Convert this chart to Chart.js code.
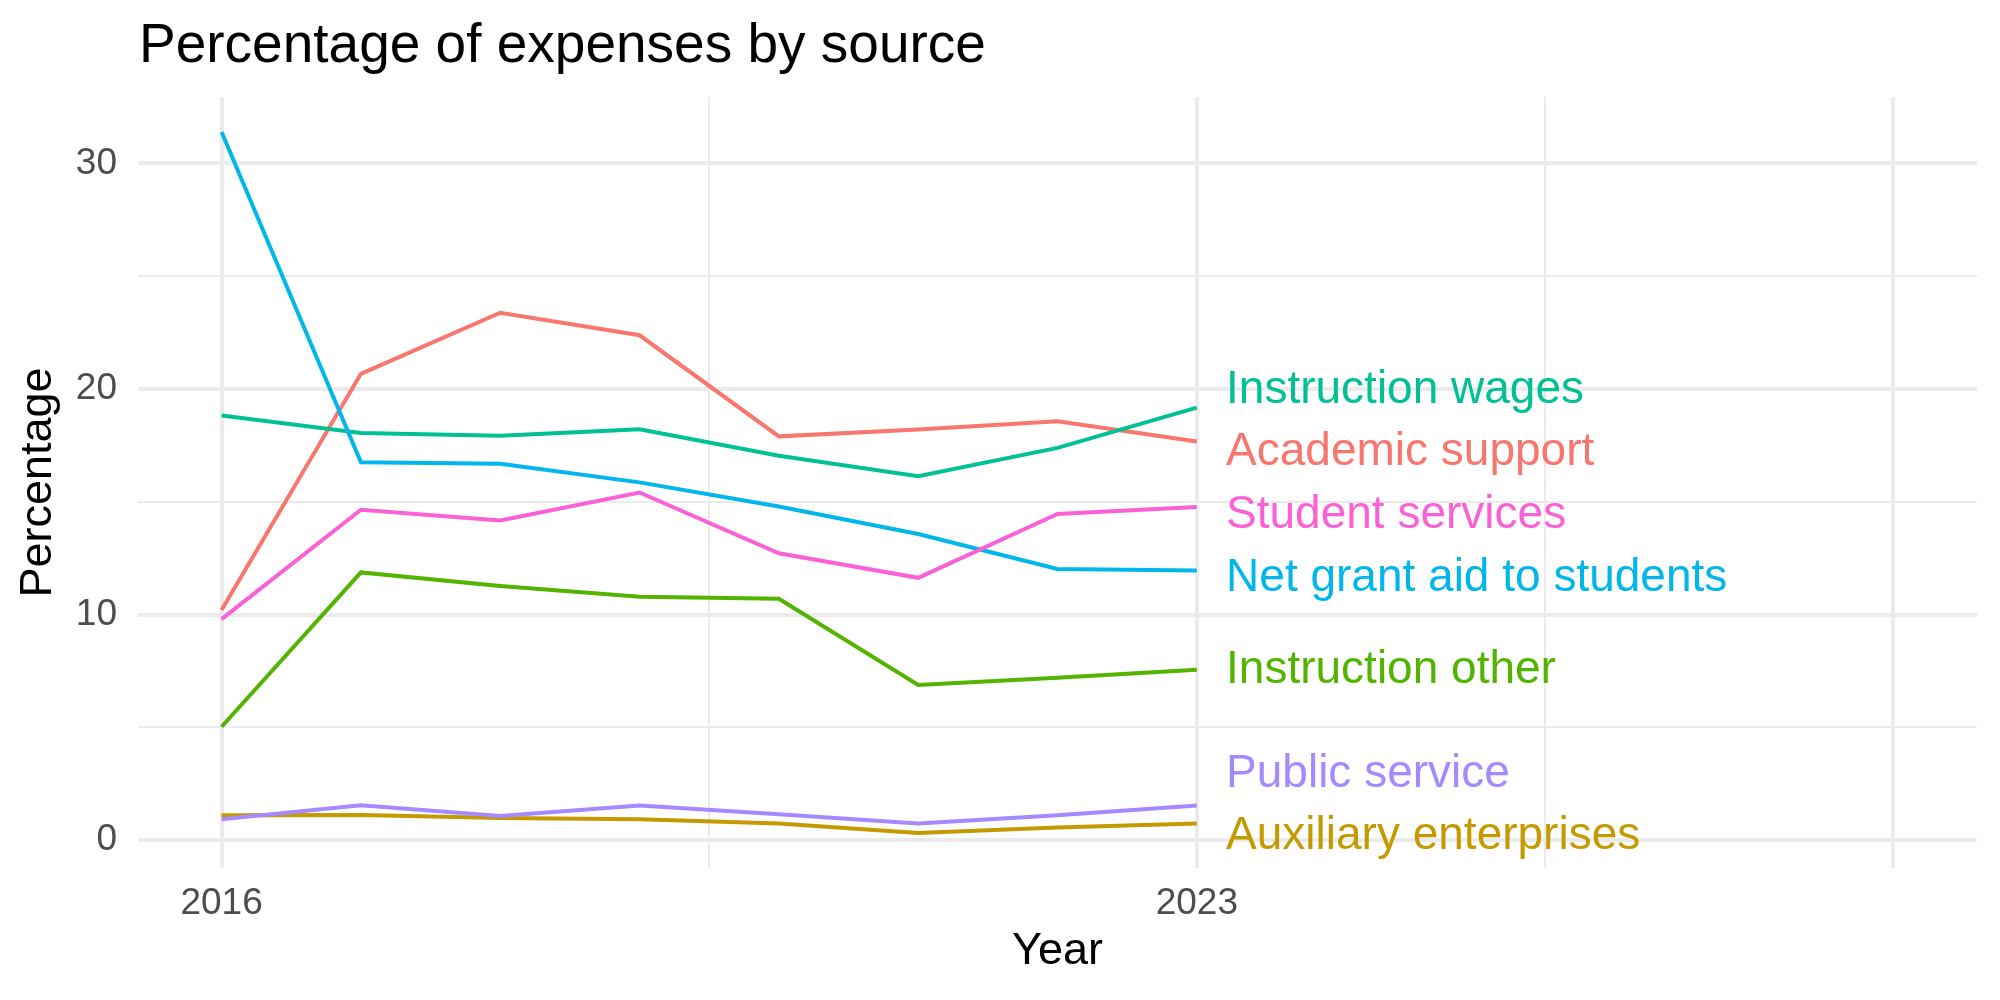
<!DOCTYPE html>
<html>
<head>
<meta charset="utf-8">
<script src="https://cdn.jsdelivr.net/npm/chart.js@4"></script>
<style>
  html, body { margin: 0; padding: 0; background: #fff; }
  #wrap { width: 2000px; height: 1000px; position: relative; }
</style>
</head>
<body>
<div id="wrap"><canvas id="chartGastos"></canvas></div>
<script>
const years = [2016, 2017, 2018, 2019, 2020, 2021, 2022, 2023];

const seriesNames = [
    'Academic support',
    'Auxiliary enterprises',
    'Instruction other',
    'Instruction wages',
    'Net grant aid to students',
    'Public service',
    'Student services'
];

const academicSupport = [10.2, 20.67, 23.38, 22.38, 17.9, 18.2, 18.57, 17.67];
const auxiliaryEnterprises = [1.11, 1.12, 0.99, 0.93, 0.74, 0.32, 0.56, 0.74];
const instructionOther = [5.03, 11.87, 11.27, 10.79, 10.7, 6.88, 7.2, 7.56];
const instructionWages = [18.82, 18.05, 17.93, 18.21, 17.04, 16.13, 17.39, 19.17];
const netGrantAid = [31.39, 16.75, 16.69, 15.86, 14.79, 13.57, 12.02, 11.95];
const publicService = [0.93, 1.55, 1.07, 1.54, 1.15, 0.74, 1.11, 1.54];
const studentServices = [9.8, 14.65, 14.17, 15.41, 12.72, 11.63, 14.46, 14.77];

// end-of-line labels (repelled positions, in data units)
const labelY = [17.19, 0.16, 7.55, 19.95, 11.61, 2.94, 14.4];
const labelYear = 2023.21;

const xBreaks = [2016, 2019.5, 2023, 2025.5, 2028];
const xMajor = [2016, 2023, 2028];
const xTickText = { 2016: '2016', 2023: '2023' };
const yBreaks = [0, 5, 10, 15, 20, 25, 30];

const COLORS = ['#F8766D', '#C49A00', '#53B400', '#00C094', '#00B6EB', '#A58AFF', '#FB61D7'];
const FONT = '"Liberation Sans", Arial, Helvetica, sans-serif';
const GRID = '#EBEBEB';

const allSeries = [academicSupport, auxiliaryEnterprises, instructionOther, instructionWages,
    netGrantAid, publicService, studentServices];

const datasets = allSeries.map((vals, i) => ({
    label: seriesNames[i],
    data: vals.map((v, j) => ({ x: years[j], y: v })),
    borderColor: COLORS[i],
    backgroundColor: COLORS[i],
    borderWidth: 4,
    pointRadius: 0,
    tension: 0,
    fill: false,
    order: allSeries.length - i
}));

// title + direct labels, drawn like ggplot
const textPlugin = {
    id: 'ggText',
    afterDraw(chart) {
        const ctx = chart.ctx;
        const xs = chart.scales.x, ys = chart.scales.y;
        ctx.save();
        ctx.fillStyle = '#000';
        ctx.font = '55px ' + FONT;
        ctx.textAlign = 'left';
        ctx.textBaseline = 'alphabetic';
        ctx.fillText('Percentage of expenses by source', chart.chartArea.left + 1, 62);

        ctx.font = '46px ' + FONT;
        ctx.textBaseline = 'middle';
        seriesNames.forEach((name, i) => {
            ctx.fillStyle = COLORS[i];
            ctx.fillText(name, xs.getPixelForValue(labelYear), ys.getPixelForValue(labelY[i]));
        });
        ctx.restore();
    }
};

const cv = document.getElementById('chartGastos');
new Chart(cv.getContext('2d'), {
    type: 'line',
    data: { datasets },
    plugins: [textPlugin],
    options: {
        responsive: true,
        maintainAspectRatio: false,
        animation: false,
        layout: { padding: { top: 97, right: 23, left: 0, bottom: 0 } },
        plugins: {
            legend: { display: false },
            tooltip: { enabled: false },
            title: { display: false }
        },
        scales: {
            x: {
                type: 'linear',
                min: 2015.4,
                max: 2028.6,
                afterBuildTicks: s => { s.ticks = xBreaks.map(v => ({ value: v })); },
                afterFit: s => { s.height = 132; },
                border: { display: false },
                grid: {
                    color: GRID,
                    drawTicks: false,
                    lineWidth: c => xMajor.includes(c.tick.value) ? 4 : 2
                },
                ticks: {
                    autoSkip: false,
                    maxRotation: 0,
                    padding: 14,
                    color: '#4D4D4D',
                    font: { family: FONT, size: 37, lineHeight: 1.2 },
                    callback: v => xTickText[v] || ''
                },
                title: {
                    display: true,
                    text: 'Year',
                    color: '#000',
                    font: { family: FONT, size: 45, lineHeight: 1.2 },
                    padding: { top: 0, bottom: 21 }
                }
            },
            y: {
                min: -1.23,
                max: 32.94,
                afterBuildTicks: s => { s.ticks = yBreaks.map(v => ({ value: v })); },
                afterFit: s => { s.width = 138; },
                border: { display: false },
                grid: {
                    color: GRID,
                    drawTicks: false,
                    lineWidth: c => c.tick.value % 10 === 0 ? 4 : 2
                },
                ticks: {
                    padding: 21,
                    color: '#4D4D4D',
                    font: { family: FONT, size: 37, lineHeight: 1.2 },
                    callback: v => v % 10 === 0 ? String(v) : ''
                },
                title: {
                    display: true,
                    text: 'Percentage',
                    color: '#000',
                    font: { family: FONT, size: 45, lineHeight: 1.2 },
                    padding: { top: 12, bottom: 0 }
                }
            }
        }
    }
});
</script>
</body>
</html>
